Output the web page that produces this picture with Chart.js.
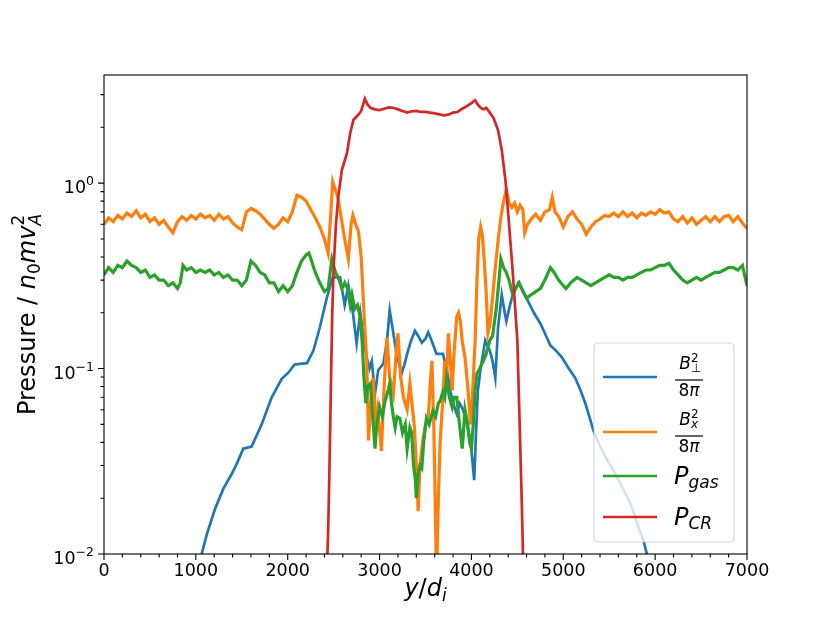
<!DOCTYPE html>
<html>
<head>
<meta charset="utf-8">
<script src="https://cdn.jsdelivr.net/npm/chart.js@4"></script>
<style>
  body { margin: 0; background: #fff; }
  canvas { display: block; }
</style>
</head>
<body>
<canvas id="myChart" width="830" height="623"></canvas>
<script>
// B_perp^2 / 8pi
const perpX = [1000, 1063, 1120, 1210, 1300, 1390, 1450, 1516, 1607, 1716, 1826, 1935, 2007, 2072, 2133, 2210, 2280, 2350, 2425, 2490, 2570, 2620, 2660, 2710, 2750, 2790, 2830, 2860, 2890, 2915, 2950, 2985, 3040, 3080, 3110, 3150, 3185, 3240, 3270, 3300, 3340, 3385, 3420, 3460, 3500, 3530, 3570, 3620, 3690, 3730, 3770, 3800, 3840, 3870, 3910, 3950, 3990, 4030, 4050, 4070, 4100, 4150, 4200, 4230, 4260, 4290, 4330, 4355, 4380, 4420, 4450, 4510, 4550, 4600, 4680, 4750, 4800, 4860, 4920, 4985, 5060, 5130, 5180, 5240, 5330, 5400, 5480, 5550, 5620, 5680, 5730, 5780, 5820, 5870, 5910, 5950];
const perpY = [0.007, 0.01, 0.0128, 0.0176, 0.0225, 0.027, 0.031, 0.037, 0.038, 0.05, 0.07, 0.088, 0.095, 0.105, 0.106, 0.107, 0.125, 0.167, 0.24, 0.31, 0.31, 0.22, 0.28, 0.2, 0.137, 0.2, 0.14, 0.115, 0.1, 0.11, 0.073, 0.098, 0.106, 0.14, 0.206, 0.155, 0.12, 0.094, 0.105, 0.12, 0.14, 0.16, 0.15, 0.138, 0.145, 0.157, 0.14, 0.12, 0.12, 0.1, 0.076, 0.065, 0.057, 0.065, 0.06, 0.05, 0.041, 0.025, 0.045, 0.076, 0.1, 0.142, 0.125, 0.11, 0.089, 0.167, 0.25, 0.21, 0.18, 0.22, 0.25, 0.29, 0.27, 0.24, 0.2, 0.175, 0.155, 0.133, 0.125, 0.115, 0.1, 0.089, 0.078, 0.065, 0.046, 0.038, 0.032, 0.028, 0.024, 0.021, 0.0188, 0.016, 0.0138, 0.012, 0.01, 0.009];

// B_x^2 / 8pi
const bxX = [0, 50, 100, 150, 200, 250, 300, 350, 400, 450, 500, 550, 600, 650, 700, 750, 800, 850, 900, 950, 1000, 1050, 1100, 1150, 1200, 1250, 1300, 1350, 1400, 1450, 1500, 1550, 1600, 1650, 1700, 1750, 1800, 1850, 1900, 1950, 2000, 2050, 2100, 2150, 2200, 2250, 2300, 2350, 2400, 2440, 2470, 2490, 2520, 2550, 2580, 2620, 2660, 2690, 2710, 2740, 2770, 2800, 2830, 2860, 2880, 2900, 2930, 2960, 2980, 3020, 3050, 3080, 3110, 3150, 3180, 3200, 3230, 3260, 3300, 3330, 3360, 3380, 3400, 3420, 3440, 3470, 3500, 3530, 3550, 3570, 3590, 3605, 3620, 3640, 3660, 3690, 3710, 3730, 3750, 3770, 3790, 3810, 3840, 3860, 3880, 3900, 3930, 3960, 3990, 4010, 4040, 4060, 4080, 4100, 4120, 4140, 4160, 4180, 4200, 4230, 4260, 4290, 4320, 4350, 4380, 4410, 4440, 4470, 4500, 4530, 4560, 4580, 4610, 4650, 4700, 4750, 4800, 4850, 4880, 4910, 4950, 5000, 5050, 5100, 5150, 5200, 5250, 5300, 5350, 5400, 5450, 5500, 5550, 5600, 5650, 5700, 5750, 5800, 5850, 5900, 5950, 6000, 6050, 6100, 6150, 6200, 6250, 6300, 6350, 6400, 6450, 6500, 6550, 6600, 6650, 6700, 6750, 6800, 6850, 6900, 6950, 7000];
const bxY = [0.6, 0.65, 0.62, 0.67, 0.64, 0.69, 0.66, 0.71, 0.65, 0.68, 0.62, 0.65, 0.6, 0.63, 0.58, 0.54, 0.62, 0.66, 0.63, 0.67, 0.64, 0.68, 0.65, 0.67, 0.63, 0.68, 0.64, 0.66, 0.61, 0.58, 0.56, 0.7, 0.73, 0.71, 0.68, 0.64, 0.6, 0.57, 0.6, 0.65, 0.62, 0.7, 0.86, 0.84, 0.8, 0.72, 0.65, 0.58, 0.5, 0.42, 0.7, 1.02, 0.92, 0.82, 0.66, 0.5, 0.39, 0.6, 0.67, 0.6, 0.55, 0.4, 0.2, 0.11, 0.041, 0.06, 0.089, 0.05, 0.06, 0.036, 0.08, 0.147, 0.09, 0.073, 0.12, 0.155, 0.09, 0.07, 0.06, 0.083, 0.06, 0.048, 0.03, 0.017, 0.03, 0.041, 0.05, 0.054, 0.08, 0.11, 0.05, 0.02, 0.007, 0.02, 0.041, 0.07, 0.11, 0.09, 0.155, 0.11, 0.076, 0.12, 0.19, 0.2, 0.18, 0.14, 0.115, 0.08, 0.05, 0.07, 0.14, 0.3, 0.5, 0.58, 0.52, 0.38, 0.26, 0.155, 0.17, 0.24, 0.35, 0.49, 0.65, 0.8, 0.92, 0.78, 0.74, 0.78, 0.7, 0.76, 0.72, 0.54, 0.6, 0.64, 0.68, 0.63, 0.7, 0.72, 0.84, 0.7, 0.66, 0.58, 0.66, 0.7, 0.64, 0.6, 0.53, 0.58, 0.62, 0.64, 0.67, 0.66, 0.69, 0.66, 0.7, 0.66, 0.69, 0.65, 0.69, 0.67, 0.7, 0.68, 0.72, 0.69, 0.7, 0.64, 0.62, 0.66, 0.61, 0.65, 0.6, 0.63, 0.66, 0.62, 0.66, 0.62, 0.66, 0.67, 0.62, 0.66, 0.61, 0.57];

// P_gas
const gasX = [0, 50, 100, 150, 200, 250, 300, 350, 400, 450, 500, 550, 600, 650, 700, 750, 800, 830, 860, 900, 950, 1000, 1050, 1100, 1150, 1200, 1250, 1300, 1350, 1400, 1450, 1500, 1550, 1600, 1650, 1700, 1750, 1800, 1850, 1900, 1950, 2000, 2050, 2100, 2150, 2200, 2230, 2260, 2300, 2350, 2400, 2440, 2480, 2520, 2550, 2590, 2620, 2650, 2680, 2700, 2730, 2760, 2790, 2810, 2830, 2850, 2870, 2900, 2920, 2950, 2970, 3000, 3030, 3060, 3090, 3110, 3130, 3150, 3170, 3190, 3220, 3250, 3280, 3300, 3330, 3350, 3370, 3390, 3400, 3420, 3440, 3460, 3480, 3510, 3540, 3580, 3610, 3640, 3660, 3690, 3710, 3730, 3760, 3790, 3810, 3840, 3870, 3900, 3930, 3960, 3980, 4000, 4020, 4040, 4060, 4090, 4130, 4160, 4200, 4230, 4270, 4300, 4320, 4350, 4380, 4410, 4450, 4480, 4520, 4560, 4600, 4650, 4700, 4750, 4800, 4860, 4900, 4950, 5000, 5030, 5080, 5150, 5200, 5250, 5300, 5350, 5400, 5450, 5500, 5550, 5600, 5650, 5700, 5750, 5800, 5850, 5900, 5950, 6000, 6050, 6100, 6150, 6200, 6250, 6300, 6350, 6400, 6450, 6500, 6550, 6600, 6650, 6700, 6750, 6800, 6850, 6900, 6950, 7000];
const gasY = [0.32, 0.35, 0.33, 0.36, 0.35, 0.38, 0.36, 0.35, 0.33, 0.34, 0.31, 0.32, 0.3, 0.3, 0.28, 0.29, 0.27, 0.29, 0.36, 0.34, 0.35, 0.33, 0.34, 0.33, 0.34, 0.32, 0.33, 0.31, 0.32, 0.3, 0.3, 0.28, 0.3, 0.38, 0.36, 0.33, 0.32, 0.29, 0.29, 0.26, 0.28, 0.26, 0.28, 0.33, 0.38, 0.41, 0.42, 0.38, 0.33, 0.29, 0.26, 0.27, 0.39, 0.33, 0.31, 0.27, 0.29, 0.27, 0.22, 0.25, 0.21, 0.22, 0.19, 0.14, 0.09, 0.065, 0.08, 0.083, 0.06, 0.037, 0.05, 0.062, 0.055, 0.067, 0.075, 0.083, 0.065, 0.055, 0.048, 0.055, 0.054, 0.045, 0.05, 0.037, 0.048, 0.045, 0.03, 0.025, 0.02, 0.027, 0.03, 0.029, 0.04, 0.054, 0.05, 0.059, 0.055, 0.065, 0.067, 0.075, 0.07, 0.089, 0.07, 0.062, 0.07, 0.07, 0.05, 0.037, 0.06, 0.05, 0.04, 0.037, 0.05, 0.075, 0.094, 0.1, 0.11, 0.12, 0.142, 0.15, 0.21, 0.3, 0.39, 0.35, 0.33, 0.3, 0.25, 0.27, 0.29, 0.26, 0.24, 0.25, 0.26, 0.27, 0.3, 0.35, 0.33, 0.3, 0.28, 0.27, 0.29, 0.31, 0.3, 0.29, 0.28, 0.29, 0.3, 0.31, 0.32, 0.31, 0.31, 0.3, 0.31, 0.31, 0.32, 0.33, 0.34, 0.34, 0.35, 0.36, 0.36, 0.37, 0.34, 0.32, 0.3, 0.29, 0.3, 0.31, 0.3, 0.31, 0.32, 0.33, 0.33, 0.34, 0.35, 0.35, 0.34, 0.36, 0.28];

// P_CR
const crX = [2400, 2425, 2440, 2455, 2470, 2485, 2500, 2525, 2550, 2590, 2645, 2680, 2715, 2765, 2800, 2840, 2870, 2900, 2950, 3000, 3050, 3100, 3150, 3200, 3250, 3300, 3350, 3400, 3450, 3500, 3550, 3600, 3650, 3700, 3750, 3800, 3850, 3900, 3950, 4000, 4040, 4070, 4100, 4130, 4160, 4200, 4240, 4290, 4330, 4370, 4400, 4450, 4500, 4520, 4550, 4565, 4580];
const crY = [0.004, 0.008, 0.013, 0.03, 0.08, 0.2, 0.35, 0.6, 0.84, 1.18, 1.45, 1.86, 2.19, 2.33, 2.45, 2.85, 2.65, 2.55, 2.5, 2.48, 2.52, 2.56, 2.55, 2.5, 2.45, 2.4, 2.44, 2.45, 2.42, 2.42, 2.4, 2.38, 2.35, 2.32, 2.34, 2.4, 2.42, 2.52, 2.6, 2.7, 2.8, 2.65, 2.55, 2.5, 2.55, 2.4, 2.25, 1.93, 1.51, 1.04, 0.69, 0.33, 0.142, 0.062, 0.0175, 0.008, 0.004];

const xTicks = [0, 1000, 2000, 3000, 4000, 5000, 6000, 7000];
const yTicks = [0.01, 0.1, 1];
const yTickExp = ['\u22122', '\u22121', '0'];

const FONT = '"DejaVu Sans", sans-serif';

function pts(xs, ys) {
  return xs.map((x, i) => ({ x: x, y: ys[i] }));
}

// draws a run of text pieces: {t, s (size), it (italic), dy, stay}
function drawRich(ctx, parts, x, y, align) {
  let w = 0;
  const widths = [];
  for (const p of parts) {
    ctx.font = (p.it ? 'italic ' : '') + p.s + 'px ' + FONT;
    const pw = ctx.measureText(p.t).width;
    widths.push(pw);
    if (!p.stay) w += pw;
  }
  let cx = x;
  if (align === 'center') cx = x - w / 2;
  if (align === 'right') cx = x - w;
  parts.forEach((p, i) => {
    ctx.font = (p.it ? 'italic ' : '') + p.s + 'px ' + FONT;
    ctx.fillText(p.t, cx, y + (p.dy || 0));
    if (!p.stay) cx += widths[i];
  });
  return w;
}

function drawFrac(ctx, num, den, cx, barY) {
  ctx.textAlign = 'left';
  ctx.textBaseline = 'alphabetic';
  drawRich(ctx, num, cx, barY - 11, 'center');
  drawRich(ctx, den, cx, barY + 16, 'center');
  ctx.fillRect(cx - 14, barY - 0.6, 28, 1.2);
}

const axesPlugin = {
  id: 'mplAxes',
  afterDraw(chart) {
    const ctx = chart.ctx;
    const a = chart.chartArea;
    const xs = chart.scales.x, ys = chart.scales.y;
    ctx.save();
    ctx.fillStyle = '#000';
    ctx.strokeStyle = '#000';
    ctx.lineWidth = 1.1;

    // frame
    ctx.strokeRect(a.left, a.top, a.right - a.left, a.bottom - a.top);

    // x ticks
    ctx.beginPath();
    for (let v = 0; v <= 7000; v += 200) {
      const px = xs.getPixelForValue(v);
      const len = v % 1000 === 0 ? 6 : 3.5;
      ctx.moveTo(px, a.bottom);
      ctx.lineTo(px, a.bottom + len);
    }
    // y ticks
    for (let d = -2; d <= 0; d++) {
      for (let m = 1; m <= 9; m++) {
        const v = m * Math.pow(10, d);
        if (v > ys.max) break;
        const py = ys.getPixelForValue(v);
        const len = m === 1 ? 6 : 3.5;
        ctx.moveTo(a.left, py);
        ctx.lineTo(a.left - len, py);
      }
    }
    ctx.stroke();

    ctx.textBaseline = 'alphabetic';
    ctx.textAlign = 'left';
    xTicks.forEach(v => {
      drawRich(ctx, [{ t: String(v), s: 17.5 }], xs.getPixelForValue(v), a.bottom + 22, 'center');
    });
    yTicks.forEach((v, i) => {
      const py = ys.getPixelForValue(v);
      drawRich(ctx, [{ t: '10', s: 17.5 }, { t: yTickExp[i], s: 12.5, dy: -8 }], 94, py + 10, 'right');
    });

    // axis titles
    drawRich(ctx, [
      { t: 'y', s: 24, it: true }, { t: '/', s: 24 }, { t: 'd', s: 24, it: true }, { t: 'i', s: 17, it: true, dy: 5 }
    ], (a.left + a.right) / 2, 596, 'center');

    ctx.save();
    ctx.translate(35, (a.top + a.bottom) / 2);
    ctx.rotate(-Math.PI / 2);
    drawRich(ctx, [
      { t: 'Pressure / ', s: 24 }, { t: 'n', s: 24, it: true }, { t: '0', s: 17, dy: 5 },
      { t: 'mv', s: 24, it: true }, { t: '2', s: 17, dy: -11, stay: true }, { t: 'A', s: 17, it: true, dy: 6 }
    ], 0, 0, 'center');
    ctx.restore();

    // legend
    const lx = 594, ly = 343, lw = 140, lh = 199;
    ctx.beginPath();
    ctx.roundRect(lx, ly, lw, lh, 4);
    ctx.fillStyle = 'rgba(255,255,255,0.8)';
    ctx.fill();
    ctx.strokeStyle = 'rgba(204,204,204,0.8)';
    ctx.lineWidth = 1.1;
    ctx.stroke();

    const legY = [377, 432, 476, 517];
    chart.data.datasets.forEach((ds, i) => {
      ctx.beginPath();
      ctx.strokeStyle = ds.borderColor;
      ctx.lineWidth = 2.7;
      ctx.moveTo(603, legY[i]);
      ctx.lineTo(657, legY[i]);
      ctx.stroke();
    });
    ctx.fillStyle = '#000';
    drawFrac(ctx,
      [{ t: 'B', s: 17, it: true }, { t: '\u22a5', s: 12, dy: 3, stay: true }, { t: '2', s: 12, dy: -7 }],
      [{ t: '8', s: 17 }, { t: '\u03c0', s: 17, it: true }], 689, 380);
    drawFrac(ctx,
      [{ t: 'B', s: 17, it: true }, { t: 'x', s: 12, it: true, dy: 3, stay: true }, { t: '2', s: 12, dy: -7 }],
      [{ t: '8', s: 17 }, { t: '\u03c0', s: 17, it: true }], 689, 436);
    drawRich(ctx, [{ t: 'P', s: 24, it: true }, { t: 'gas', s: 17, it: true, dy: 4 }], 674, 484, 'left');
    drawRich(ctx, [{ t: 'P', s: 24, it: true }, { t: 'CR', s: 17, it: true, dy: 4 }], 674, 525, 'left');

    ctx.restore();
  }
};

const ctx = document.getElementById('myChart');

new Chart(ctx, {
  type: 'line',
  data: {
    datasets: [
      { label: 'B_perp', data: pts(perpX, perpY), borderColor: '#1f77b4', order: 4 },
      { label: 'B_x', data: pts(bxX, bxY), borderColor: '#ff7f0e', order: 3, borderWidth: 3.2 },
      { label: 'P_gas', data: pts(gasX, gasY), borderColor: '#2ca02c', order: 2, borderWidth: 3.2 },
      { label: 'P_CR', data: pts(crX, crY), borderColor: '#d62728', order: 1 }
    ]
  },
  options: {
    responsive: false,
    animation: false,
    layout: { padding: { left: 104, top: 75, right: 83, bottom: 69 } },
    datasets: { line: { borderWidth: 2.7, pointRadius: 0, tension: 0, fill: false, clip: 0 } },
    scales: {
      x: { type: 'linear', min: 0, max: 7000, display: false },
      y: { type: 'logarithmic', min: 0.01, max: 3.83, display: false }
    },
    plugins: {
      legend: { display: false },
      tooltip: { enabled: false }
    }
  },
  plugins: [axesPlugin]
});
</script>
</body>
</html>
